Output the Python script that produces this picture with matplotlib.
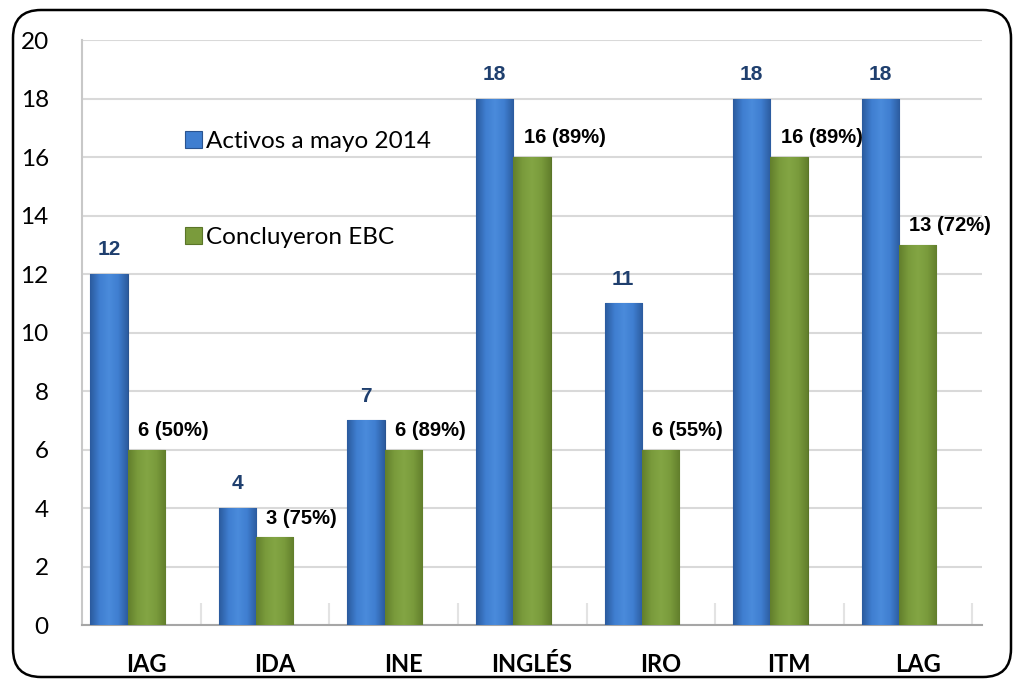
import numpy as np
import matplotlib.pyplot as plt
from matplotlib.patches import FancyBboxPatch
from matplotlib.transforms import IdentityTransform
from matplotlib.colors import LinearSegmentedColormap

# Data
categories = ['IAG', 'IDA', 'INE', 'INGLÉS', 'IRO', 'ITM', 'LAG']
activos = [12, 4, 7, 18, 11, 18, 18]
concluyeron = [6, 3, 6, 16, 6, 16, 13]
porcentajes = ['50%', '75%', '89%', '89%', '55%', '89%', '72%']

fig = plt.figure(figsize=(10.19, 6.83), dpi=100)
ax = fig.add_axes([0.0805, 0.0849, 0.883, 0.8565])

x = np.arange(len(categories))
w = 0.29

blue_cmap = LinearSegmentedColormap.from_list('b', ['#2B5B9E', '#3F7ED0', '#4A8BDB', '#3F7ED0', '#2C5C9F'])
green_cmap = LinearSegmentedColormap.from_list('g', ['#627F2C', '#7A9B3C', '#83A544', '#7A9B3C', '#627F2C'])


def gradient_bars(bars, cmap, edge):
    grad = np.linspace(0, 1, 64).reshape(1, -1)
    for b in bars:
        b.set_edgecolor(edge)
        b.set_linewidth(0.8)
        x0, y0 = b.get_x(), b.get_y()
        im = ax.imshow(grad, cmap=cmap, aspect='auto', zorder=b.get_zorder() + 0.1,
                       extent=[x0, x0 + b.get_width(), y0, y0 + b.get_height()])
        im.set_clip_path(b)


b1 = ax.bar(x - w, activos, w, color='#3F7ED0', zorder=3, label='Activos a mayo 2014')
b2 = ax.bar(x, concluyeron, w, color='#7A9B3C', zorder=3, label='Concluyeron EBC')
gradient_bars(b1, blue_cmap, '#2A5490')
gradient_bars(b2, green_cmap, '#5A7528')

# value labels
for xi, v in zip(x, activos):
    ax.text(xi - w, v + 0.5, str(v), ha='center', va='bottom', fontsize=15,
            fontweight='bold', color='#1F3F6E', family='Liberation Sans')
for xi, v, p in zip(x, concluyeron, porcentajes):
    ax.text(xi - 0.065, v + 0.33, f'{v} ({p})', ha='left', va='bottom', fontsize=14.5,
            fontweight='bold', color='black', family='Liberation Sans')

ax.set_xlim(-0.5, len(categories) - 0.5)
ax.set_ylim(0, 20)
ax.set_yticks(np.arange(0, 21, 2))
ax.set_xticks(x)
ax.set_xticklabels(categories, fontsize=17, fontweight='bold', family='Lato')
ax.set_xticks(x + 0.425, minor=True)
ax.tick_params(axis='x', which='major', length=0, pad=20)
ax.tick_params(axis='x', which='minor', direction='in', length=16, width=1.5, color='#E3E3E3')
ax.tick_params(axis='y', length=0, pad=24, labelsize=17.5)
for lbl in ax.get_yticklabels():
    lbl.set_family('Lato')

ax.grid(axis='y', color='#D9D9D9', linewidth=1.5, zorder=0)
ax.set_axisbelow(True)
for s in ['top', 'right']:
    ax.spines[s].set_visible(False)
ax.spines['left'].set_color('#C8C8C8')
ax.spines['left'].set_linewidth(1.5)
ax.spines['bottom'].set_color('#A6A6A6')
ax.spines['bottom'].set_linewidth(1.5)

leg = ax.legend(loc='upper left', bbox_to_anchor=(0.114, 0.845), frameon=False,
                prop={'family': 'Lato', 'size': 17.5}, handlelength=0.7, handleheight=0.7,
                handletextpad=0.2, labelspacing=3.1, borderpad=0, borderaxespad=0)

# rounded frame around the chart
frame = FancyBboxPatch((13, 6), 998, 667, boxstyle='round,pad=0,rounding_size=28',
                       transform=IdentityTransform(), fill=False, edgecolor='black',
                       linewidth=1.8, figure=fig)
fig.patches.append(frame)

fig.savefig('out.png', dpi=100)
